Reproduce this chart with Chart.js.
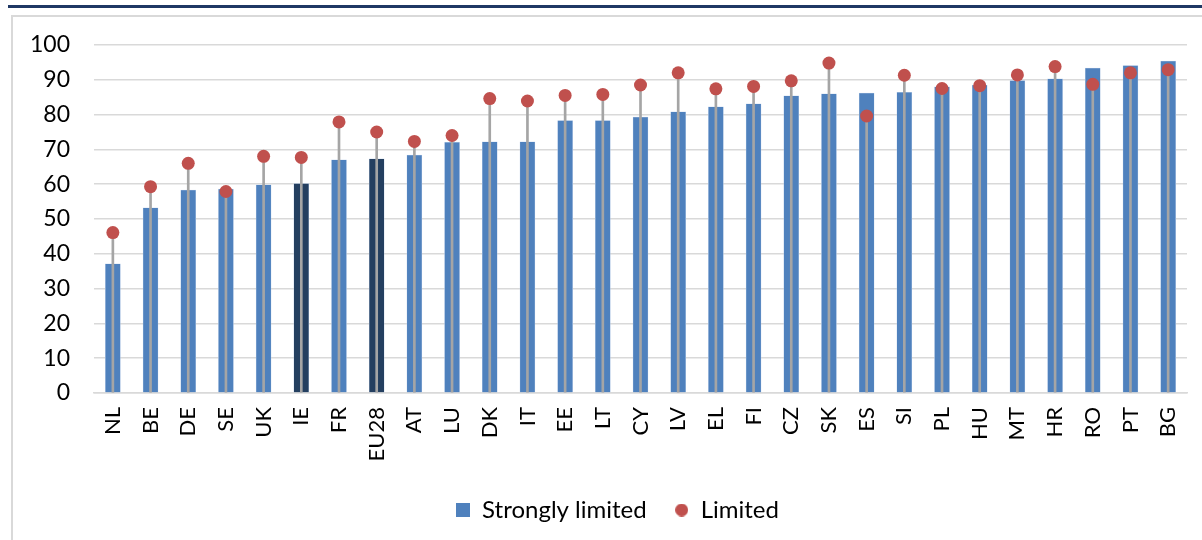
<!DOCTYPE html>
<html>
<head>
<meta charset="utf-8">
<script src="https://cdn.jsdelivr.net/npm/chart.js@4/dist/chart.umd.min.js"></script>
<style>
    html, body { margin: 0; padding: 0; background: #fff; }
    #wrap { position: relative; width: 1202px; height: 540px; overflow: hidden; }
    #topline { position: absolute; left: 8px; right: 0; top: 5px; height: 3px; background: #1F3864; }
    #frame { position: absolute; left: 11px; top: 15px; width: 1300px; height: 600px; border: 2px solid #D9D9D9; }
    #chart { position: absolute; left: 0; top: 0; }
</style>
</head>
<body>
<div id="wrap">
    <div id="topline"></div>
    <div id="frame"></div>
    <canvas id="chart" width="1202" height="540"></canvas>
</div>
<script>
// Share of people with limitations, by country
const countries = ['NL', 'BE', 'DE', 'SE', 'UK', 'IE', 'FR', 'EU28', 'AT', 'LU', 'DK', 'IT', 'EE', 'LT', 'CY',
    'LV', 'EL', 'FI', 'CZ', 'SK', 'ES', 'SI', 'PL', 'HU', 'MT', 'HR', 'RO', 'PT', 'BG'];
const stronglyLimited = [37.1, 53.2, 58.3, 58.6, 59.8, 60.2, 67.0, 67.3, 68.4, 72.0, 72.2, 72.2, 78.3, 78.3, 79.3,
    80.8, 82.2, 83.1, 85.4, 86.0, 86.2, 86.4, 88.0, 88.5, 89.8, 90.3, 93.4, 94.1, 95.4];
const limited = [46.1, 59.3, 66.0, 57.9, 68.0, 67.7, 77.9, 75.0, 72.3, 74.0, 84.6, 83.9, 85.5, 85.8, 88.5,
    92.0, 87.4, 88.1, 89.7, 94.8, 79.6, 91.3, 87.5, 88.3, 91.4, 93.8, 88.7, 92.0, 92.9];
const highlighted = ['IE', 'EU28'];
const yTicks = [0, 10, 20, 30, 40, 50, 60, 70, 80, 90, 100];

const FONT = 'Lato, "Open Sans", sans-serif';
const BLUE = '#4F81BD';
const RED = '#C0504D';
const barColors = countries.map(c => highlighted.includes(c) ? '#243F60' : BLUE);

// small legend icons (square for bars, dot for the markers)
function makeIcon(size, color, round) {
    const c = document.createElement('canvas');
    c.width = size; c.height = size;
    const g = c.getContext('2d');
    g.fillStyle = color;
    if (round) {
        g.beginPath();
        g.arc(size / 2, size / 2, size / 2, 0, Math.PI * 2);
        g.fill();
    } else {
        g.fillRect(0, 0, size, size);
    }
    return c;
}
const icons = { 'Strongly limited': makeIcon(14, BLUE, false), 'Limited': makeIcon(13, RED, true) };

// legend sits a bit right of the canvas centre in the original
const legendShift = {
    id: 'legendShift',
    afterLayout(chart) {
        if (chart.legend) {
            chart.legend.left += 42;
            chart.legend.right += 0;
        }
    }
};

function renderChart() {
    const ctx = document.getElementById('chart').getContext('2d');
    window.limitChart = new Chart(ctx, {
        type: 'bar',
        data: {
            labels: countries,
            datasets: [
                {
                    label: 'Strongly limited', data: stronglyLimited, backgroundColor: barColors,
                    borderColor: '#BDD0E9', borderWidth: 0.5, barThickness: 15, grouped: false, order: 3
                },
                {
                    label: 'stem', data: limited.map(v => [0, v]), backgroundColor: '#A5A5A5',
                    barThickness: 2, grouped: false, order: 2
                },
                {
                    type: 'line', label: 'Limited', data: limited, showLine: false,
                    pointRadius: 6.5, pointHoverRadius: 6.5, pointBackgroundColor: RED,
                    pointBorderColor: RED, borderColor: RED, backgroundColor: RED,
                    pointBorderWidth: 0, order: 1
                }
            ]
        },
        options: {
            responsive: false,
            animation: false,
            layout: { padding: { left: 6, right: 15, top: 45, bottom: 8 } },
            scales: {
                x: {
                    grid: { display: false },
                    border: { color: '#D9D9D9', width: 1.5 },
                    ticks: {
                        color: '#000', font: { family: FONT, size: 22 },
                        minRotation: 90, maxRotation: 90, autoSkip: false, padding: 6
                    },
                    afterFit: s => { s.height = 77; }
                },
                y: {
                    min: 0, max: 100,
                    afterBuildTicks: s => { s.ticks = yTicks.map(v => ({ value: v })); },
                    grid: { color: '#D9D9D9', lineWidth: 1.5, drawTicks: false },
                    border: { display: false },
                    ticks: { color: '#000', font: { family: FONT, size: 23 }, padding: 24 }
                }
            },
            plugins: {
                tooltip: { enabled: false },
                legend: {
                    position: 'bottom',
                    labels: {
                        generateLabels: chart => {
                            const items = Chart.defaults.plugins.legend.labels.generateLabels(chart)
                                .filter(it => it.text !== 'stem')
                                .sort((a, b) => a.datasetIndex - b.datasetIndex);
                            items.forEach(it => { it.pointStyle = icons[it.text]; });
                            return items;
                        },
                        usePointStyle: true, boxHeight: 14, boxWidth: 14, color: '#000',
                        font: { family: FONT, size: 24 }, padding: 28
                    }
                }
            }
        },
        plugins: [legendShift]
    });
}

if (window.Chart) {
    renderChart();
} else {
    setTimeout(() => { if (window.Chart) renderChart(); }, 200);
}
</script>
</body>
</html>
